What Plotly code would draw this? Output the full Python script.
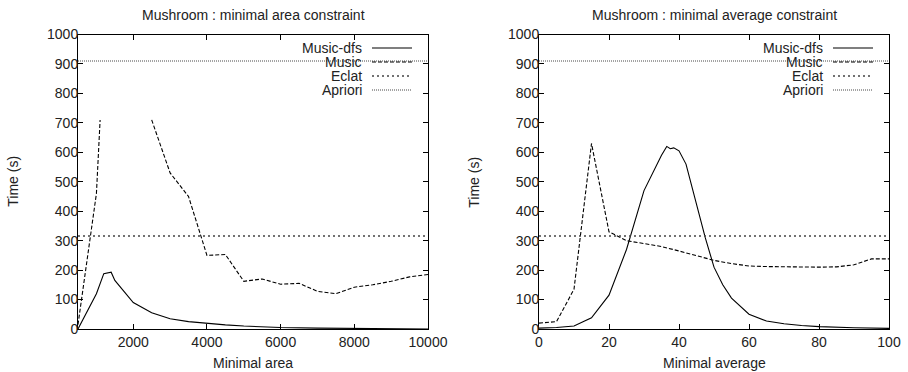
import plotly.graph_objects as go

# ---------------- data ----------------
# Left: minimal area constraint
area_dfs_x = [500, 1000, 1200, 1400, 1500, 2000, 2500, 3000, 3500, 4000, 4500, 5000, 5500, 6000, 7000, 8000, 9000, 10000]
area_dfs_y = [0, 120, 188, 193, 165, 90, 55, 35, 25, 19, 14, 10, 7, 5, 3, 2, 1, 0]

area_music_x = [500, 1000, 1100, 1800, 2500, 3000, 3500, 4000, 4500, 5000, 5500, 6000, 6500, 7000, 7500, 8000, 8500, 9000, 9500, 10000]
area_music_y = [15, 460, 710, None, 710, 530, 450, 250, 253, 162, 170, 152, 155, 128, 120, 142, 150, 162, 177, 185]

area_eclat = 316
area_apriori = 910
area_range = [500, 10000]
area_ticks = [2000, 4000, 6000, 8000, 10000]

# Right: minimal average constraint
avg_dfs_x = [0, 5, 10, 15, 20, 25, 30, 35, 36.5, 37.5, 38.5, 40, 42, 45, 47.5, 50, 52.5, 55, 60, 65, 70, 75, 80, 90, 100]
avg_dfs_y = [3, 5, 10, 38, 115, 270, 470, 590, 620, 612, 615, 605, 560, 420, 310, 210, 150, 105, 50, 27, 18, 12, 8, 4, 2]

avg_music_x = [0, 5, 10, 15, 20, 25, 30, 35, 40, 45, 50, 55, 60, 65, 70, 75, 80, 85, 90, 95, 100]
avg_music_y = [20, 25, 135, 630, 330, 300, 290, 280, 265, 248, 233, 222, 214, 212, 211, 210, 210, 211, 218, 238, 238]

avg_eclat = 316
avg_apriori = 910
avg_range = [0, 100]
avg_ticks = [0, 20, 40, 60, 80, 100]

y_ticks = list(range(0, 1001, 100))
y_range = [0, 1000]

series_names = ["Music-dfs", "Music", "Eclat", "Apriori"]
titles = ["Mushroom : minimal area constraint", "Mushroom : minimal average constraint"]
x_titles = ["Minimal area", "Minimal average"]
y_title = "Time (s)"

# ---------------- styles ----------------
W, H = 908, 372
FONT = "Liberation Sans, Arial, sans-serif"
TXT = "#222222"
FS = 14
styles = {
    "Music-dfs": dict(color="black", width=1.1, dash="solid"),
    "Music": dict(color="black", width=1.1, dash="4px,2px"),
    "Eclat": dict(color="#444444", width=1.4, dash="2px,3px"),
    "Apriori": dict(color="#333333", width=0.9, dash="1px,1px"),
}

fig = go.Figure()

panels = [
    dict(xa="x", ya="y", dfs=(area_dfs_x, area_dfs_y), music=(area_music_x, area_music_y),
         eclat=area_eclat, apriori=area_apriori, xr=area_range),
    dict(xa="x2", ya="y2", dfs=(avg_dfs_x, avg_dfs_y), music=(avg_music_x, avg_music_y),
         eclat=avg_eclat, apriori=avg_apriori, xr=avg_range),
]

for p in panels:
    fig.add_trace(go.Scatter(x=p["dfs"][0], y=p["dfs"][1], mode="lines", name="Music-dfs",
                             line=styles["Music-dfs"], xaxis=p["xa"], yaxis=p["ya"], showlegend=False))
    fig.add_trace(go.Scatter(x=p["music"][0], y=p["music"][1], mode="lines", name="Music",
                             line=styles["Music"], connectgaps=False, xaxis=p["xa"], yaxis=p["ya"], showlegend=False))
    fig.add_trace(go.Scatter(x=p["xr"], y=[p["eclat"]] * 2, mode="lines", name="Eclat",
                             line=styles["Eclat"], xaxis=p["xa"], yaxis=p["ya"], showlegend=False))
    fig.add_trace(go.Scatter(x=p["xr"], y=[p["apriori"]] * 2, mode="lines", name="Apriori",
                             line=styles["Apriori"], xaxis=p["xa"], yaxis=p["ya"], showlegend=False))

# plot area in pixels
L1, R1, L2, R2 = 78, 428, 539, 889
TOP, BOT = 34.5, 329

def px(x):
    return x / W

def py(y):
    return 1 - y / H

axis_common = dict(showline=True, linecolor="black", linewidth=1, mirror="ticks", ticks="inside",
                   ticklen=5, tickcolor="black", tickwidth=1, showgrid=False, zeroline=False,
                   tickformat="d",
                   tickfont=dict(family=FONT, size=FS, color=TXT), automargin=False)

fig.update_layout(
    width=W, height=H, margin=dict(l=0, r=0, t=0, b=0),
    paper_bgcolor="white", plot_bgcolor="white",
    xaxis=dict(domain=[px(L1), px(R1)], range=area_range, tickvals=area_ticks, anchor="y", **axis_common),
    yaxis=dict(domain=[py(BOT), py(TOP)], range=y_range, tickvals=y_ticks, anchor="x",
               ticklabelstandoff=-4, **axis_common),
    xaxis2=dict(domain=[px(L2), px(R2)], range=avg_range, tickvals=avg_ticks, anchor="y2", **axis_common),
    yaxis2=dict(domain=[py(BOT), py(TOP)], range=y_range, tickvals=y_ticks, anchor="x2",
                ticklabelstandoff=-4, **axis_common),
)

ann = []
shapes = []
for i, (l, r) in enumerate([(L1, R1), (L2, R2)]):
    cx = (l + r) / 2
    ann.append(dict(text=titles[i], x=px(cx), y=py(15), xref="paper", yref="paper",
                    xanchor="center", yanchor="middle", showarrow=False,
                    font=dict(family=FONT, size=FS, color=TXT)))
    ann.append(dict(text=x_titles[i], x=px(cx), y=py(363), xref="paper", yref="paper",
                    xanchor="center", yanchor="middle", showarrow=False,
                    font=dict(family=FONT, size=FS, color=TXT)))
    ann.append(dict(text=y_title, x=px(l - 65), y=py((TOP + BOT) / 2), xref="paper", yref="paper",
                    xanchor="center", yanchor="middle", showarrow=False, textangle=-90,
                    font=dict(family=FONT, size=FS, color=TXT)))
    # legend
    text_right = r - 65
    line_l, line_r = r - 56, r - 16
    for k, name in enumerate(series_names):
        yy = 48 + 14 * k
        ann.append(dict(text=name, x=px(text_right), y=py(yy), xref="paper", yref="paper",
                        xanchor="right", yanchor="middle", showarrow=False, borderpad=0,
                        font=dict(family=FONT, size=FS, color=TXT)))
        st = styles[name]
        shapes.append(dict(type="line", xref="paper", yref="paper", x0=px(line_l), x1=px(line_r),
                           y0=py(yy), y1=py(yy), line=dict(color=st["color"], width=st["width"], dash=st["dash"])))

fig.update_layout(annotations=ann, shapes=shapes)
fig.write_html("out.html", post_script="document.body.style.margin='0';",
               config={"displayModeBar": False})
